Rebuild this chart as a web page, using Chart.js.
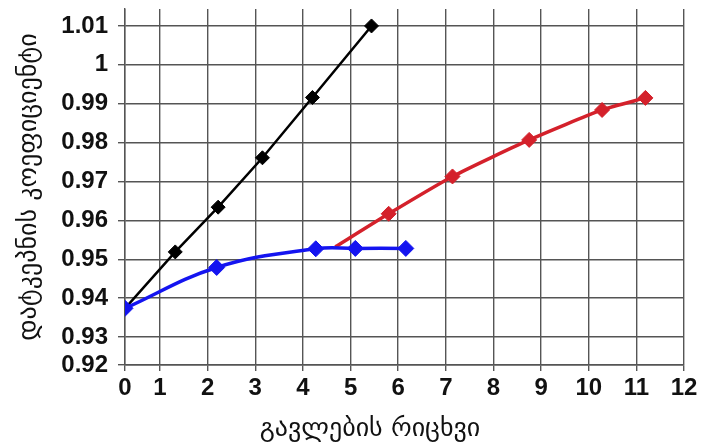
<!DOCTYPE html>
<html>
<head>
<meta charset="utf-8">
<script src="https://cdn.jsdelivr.net/npm/chart.js@4.4.1/dist/chart.umd.min.js"></script>
<style>
  html, body { margin: 0; padding: 0; background: #fff; }
</style>
</head>
<body>
<canvas id="chart-canvas" width="710" height="447"></canvas>
<script>
// axis ticks
const xTicks = [0, 1, 2, 3, 4, 5, 6, 7, 8, 9, 10, 11, 12];
const yTicks = [0.92, 0.93, 0.94, 0.95, 0.96, 0.97, 0.98, 0.99, 1.00, 1.01];

// series
const blackX = [0, 1.32, 2.22, 3.15, 4.20, 5.44];
const blackY = [0.9374, 0.9519, 0.9634, 0.9761, 0.9916, 1.0100];
const blueX = [0, 2.19, 4.27, 5.10, 6.16];
const blueY = [0.9374, 0.9479, 0.9527, 0.9528, 0.9528];
const redX = [4.68, 5.80, 7.14, 8.75, 10.28, 11.19];
const redY = [0.9532, 0.9617, 0.9713, 0.9807, 0.9884, 0.9915];

const xTitle = 'გავლების რიცხვი';
const yTitle = 'დატკეპნის კოეფიციენტი';

// The source chart squeezes the first interval of each axis,
// so a linear scale with a shorter first step.
class GapLinearScale extends Chart.LinearScale {
  toDecimal(value) {
    const { gapStep, gapRatio } = this.options;
    const d = value - this.min;
    const span = this.max - this.min - gapStep + gapStep * gapRatio;
    return d < gapStep ? d * gapRatio / span : (gapStep * gapRatio + d - gapStep) / span;
  }
  getPixelForValue(value) {
    if (value === null || value === undefined) return NaN;
    return this.getPixelForDecimal(this.toDecimal(value));
  }
  getValueForPixel(pixel) {
    const { gapStep, gapRatio } = this.options;
    const span = this.max - this.min - gapStep + gapStep * gapRatio;
    const d = this.getDecimalForPixel(pixel) * span;
    return d < gapStep * gapRatio ? this.min + d / gapRatio : this.min + gapStep + (d - gapStep * gapRatio);
  }
}
GapLinearScale.id = 'gapLinear';
GapLinearScale.defaults = Chart.LinearScale.defaults;
Chart.register(GapLinearScale);

const gridColor = '#555';
const tickFont = { family: '"Liberation Sans", Arial, sans-serif', size: 24, weight: 'bold' };
const titleFont = { family: '"DejaVu Sans", sans-serif', size: 26 };

const toPoints = (xs, ys) => xs.map((x, i) => ({ x: x, y: ys[i] }));

const xTitlePlugin = {
  id: 'xTitle',
  afterDraw(chart) {
    const { ctx, chartArea } = chart;
    ctx.save();
    ctx.font = '26px "DejaVu Sans", sans-serif';
    ctx.fillStyle = '#111';
    ctx.textAlign = 'center';
    ctx.textBaseline = 'middle';
    ctx.fillText(xTitle, chartArea.left + 245, chartArea.bottom + 64);
    ctx.restore();
  }
};

new Chart(
  document.getElementById('chart-canvas'),
  {
    type: 'line',
    plugins: [xTitlePlugin],
    data: {
      datasets: [
        {
          label: 'blue',
          data: toPoints(blueX, blueY),
          borderColor: '#1414f0',
          backgroundColor: '#1414f0',
          borderWidth: 3.5,
          pointStyle: 'rectRot',
          pointRadius: 8,
          pointBorderWidth: 1,
          tension: 0.4,
        },
        {
          label: 'black',
          data: toPoints(blackX, blackY),
          borderColor: '#000',
          backgroundColor: '#000',
          borderWidth: 2.5,
          pointStyle: 'rectRot',
          pointRadius: [0, 7, 7, 7, 7, 7],
          pointBorderWidth: 1,
          tension: 0,
        },
        {
          label: 'red',
          data: toPoints(redX, redY),
          borderColor: '#d4212b',
          backgroundColor: '#d4212b',
          borderWidth: 3.5,
          pointStyle: 'rectRot',
          pointRadius: [0, 7.5, 7.5, 7.5, 7.5, 7.5],
          pointBorderWidth: 1,
          tension: 0.2,
        }
      ]
    },
    options: {
      responsive: false,
      animation: false,
      devicePixelRatio: 1,
      layout: { padding: { top: 8, right: 26, bottom: 44, left: 0 } },
      plugins: {
        legend: { display: false },
        tooltip: { enabled: false },
      },
      scales: {
        x: {
          type: 'gapLinear',
          min: 0,
          max: 12,
          gapStep: 1,
          gapRatio: 0.735,
          afterBuildTicks: axis => { axis.ticks = xTicks.map(v => ({ value: v })); },
          afterFit: axis => { axis.height = 38; },
          grid: { color: gridColor, lineWidth: 1.4, tickLength: 6, tickColor: gridColor },
          border: { color: gridColor, width: 1.4 },
          ticks: { font: tickFont, color: '#111', padding: 3, maxRotation: 0, autoSkip: false },
        },
        y: {
          type: 'gapLinear',
          min: 0.92,
          max: 1.01436,
          gapStep: 0.01,
          gapRatio: 0.718,
          afterBuildTicks: axis => { axis.ticks = yTicks.map(v => ({ value: v })); },
          afterFit: axis => {
            axis.width = 125;
            axis.paddingTop = 0;
            axis.paddingBottom = 0;
          },
          title: { display: true, text: yTitle, font: titleFont, color: '#111', padding: { top: 14, bottom: 0 } },
          grid: { color: gridColor, lineWidth: 1.4, tickLength: 7, tickColor: gridColor },
          border: { color: gridColor, width: 1.4 },
          ticks: {
            font: tickFont,
            color: '#111',
            padding: 10,
            autoSkip: false,
            callback: v => String(Number(v.toFixed(2))),
          },
        }
      }
    }
  }
);
</script>
</body>
</html>
